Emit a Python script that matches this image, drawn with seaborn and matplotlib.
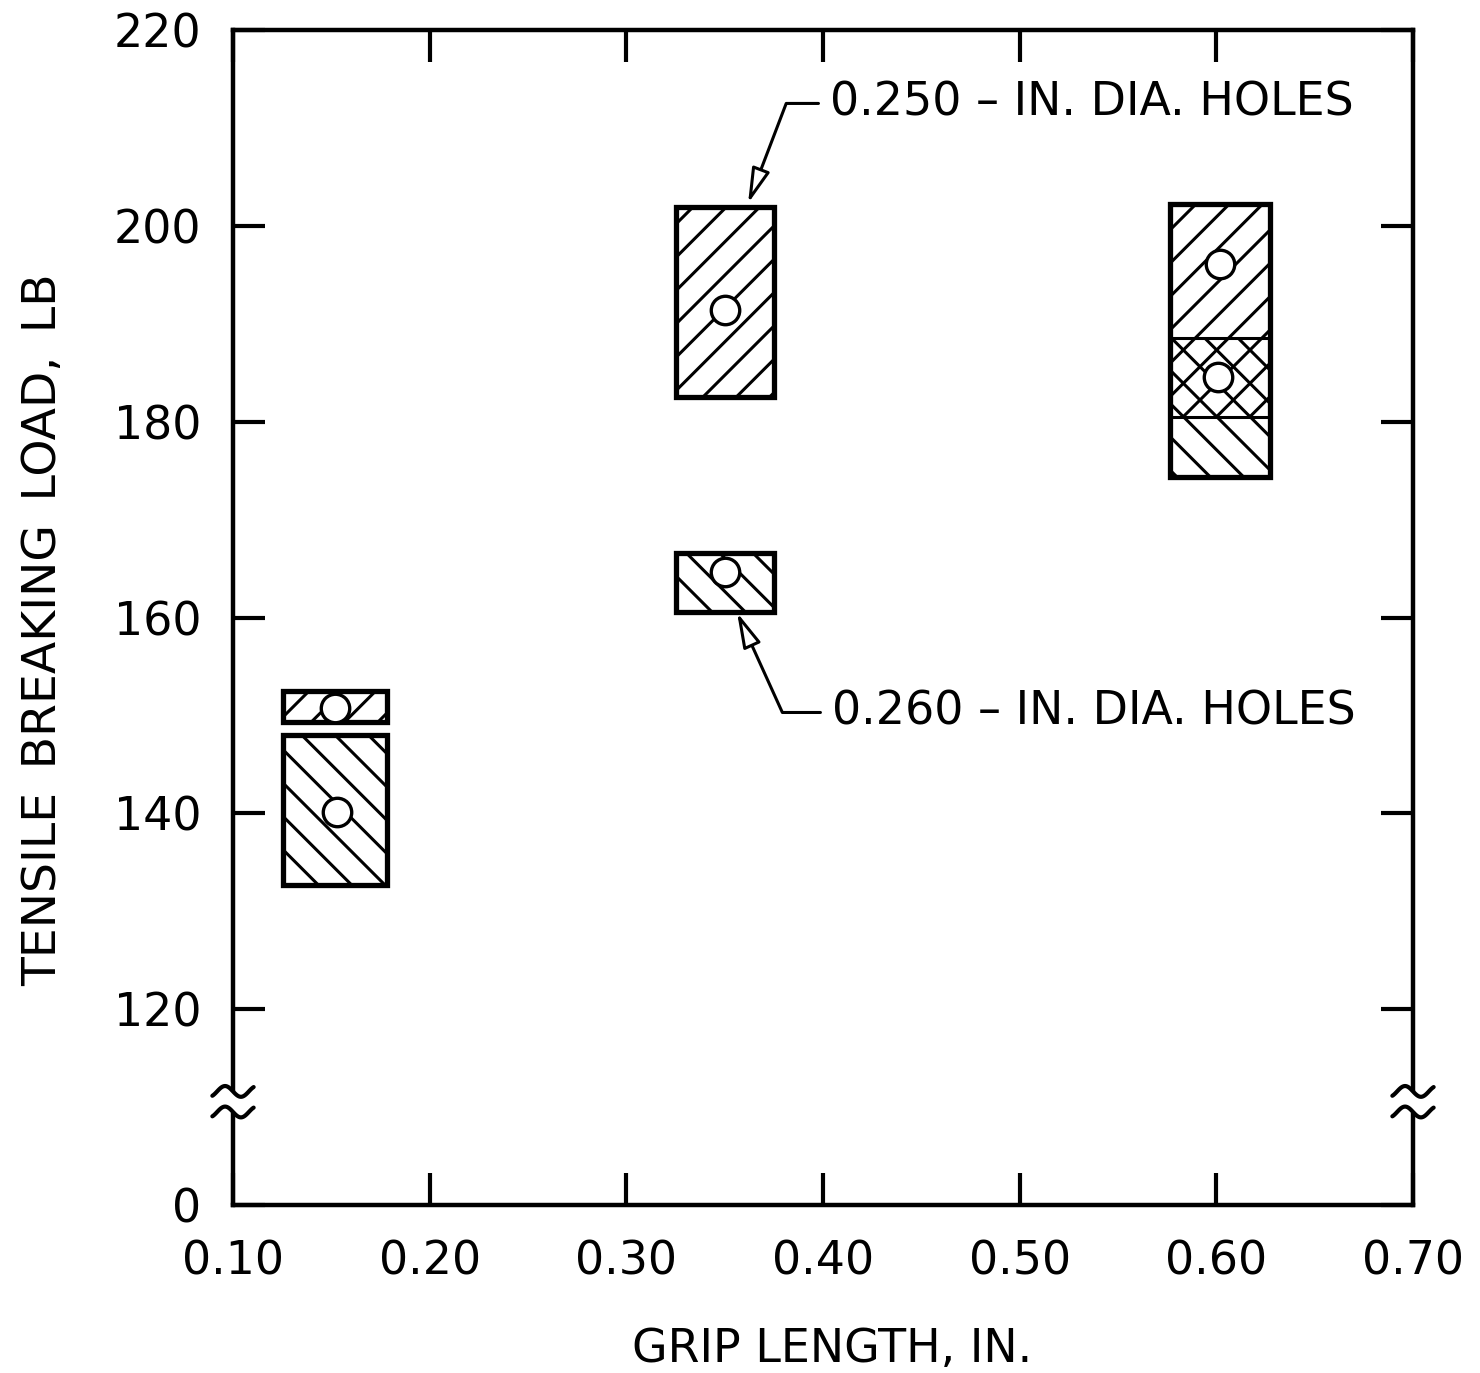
import numpy as np
import pandas as pd
import matplotlib
matplotlib.use("Agg")
import matplotlib.pyplot as plt
import seaborn as sns
from matplotlib.transforms import blended_transform_factory

# ---------------- data ----------------
box_x = [0.152, 0.152, 0.350, 0.350, 0.602, 0.602]
box_width = [0.053, 0.053, 0.050, 0.050, 0.051, 0.051]
box_low = [149.3, 132.7, 182.5, 160.6, 180.5, 174.3]
box_high = [152.5, 148.0, 201.9, 166.6, 202.2, 188.5]
box_hatch = ["//", "\\\\", "//", "\\\\", "//", "\\\\"]
box_frame = [0, 1, 2, 3, 4, 4]

mean_x = [0.152, 0.153, 0.350, 0.350, 0.602, 0.601]
mean_load = [150.8, 140.1, 191.4, 164.6, 196.1, 184.6]

x_ticks = [0.10, 0.20, 0.30, 0.40, 0.50, 0.60, 0.70]
x_tick_labels = ["0.10", "0.20", "0.30", "0.40", "0.50", "0.60", "0.70"]
y_ticks = [100, 120, 140, 160, 180, 200, 220]
y_tick_labels = ["0", "120", "140", "160", "180", "200", "220"]

y_break = [109.5, 111.6]

notes = ["0.250 \u2013 IN. DIA. HOLES", "0.260 \u2013 IN. DIA. HOLES"]
note_text_xy = [(0.4036, 212.5), (0.4046, 150.3)]
note_target_xy = [(0.3619, 202.3), (0.3563, 160.5)]
note_angle = [69.1, -65.6]

x_label = "GRIP LENGTH, IN."
y_label = "TENSILE\u2002BREAKING\u2002LOAD,\u2002LB"

# ---------------- style ----------------
sns.set_style("white")
plt.rcParams["font.family"] = ["DejaVu Sans"]
plt.rcParams["hatch.linewidth"] = 1.1
plt.rcParams["hatch.color"] = "black"
plt.rcParams["text.color"] = "black"
plt.rcParams["axes.labelcolor"] = "black"

fs = 16.5
fig = plt.figure(figsize=(7.4, 6.865), dpi=200, facecolor="white")
ax = fig.add_axes([233 / 1480, 1 - 1205 / 1373, 1180 / 1480, 1175 / 1373])
ax.set_facecolor("white")

# hatched boxes
boxes = pd.DataFrame(dict(x=box_x, w=box_width, low=box_low, high=box_high,
                          hatch=box_hatch, frame=box_frame))
for _, r in boxes.iterrows():
    ax.bar(r.x, r.high - r.low, bottom=r.low, width=r.w, fill=False,
           hatch=r.hatch, edgecolor="black", linewidth=1.1, zorder=2)
frames = boxes.groupby("frame").agg(x=("x", "mean"), w=("w", "mean"),
                                    low=("low", "min"), high=("high", "max"))
for _, r in frames.iterrows():
    ax.bar(r.x, r.high - r.low, bottom=r.low, width=r.w, fill=False,
           edgecolor="black", linewidth=1.9, zorder=3)

# mean points
means = pd.DataFrame(dict(grip=mean_x, load=mean_load))
sns.scatterplot(data=means, x="grip", y="load", ax=ax, s=105, color="white",
                edgecolor="black", linewidth=1.2, zorder=5, legend=False)

# axes
ax.set_xlim(x_ticks[0], x_ticks[-1])
ax.set_ylim(y_ticks[0], y_ticks[-1])
ax.set_xticks(x_ticks)
ax.set_xticklabels(x_tick_labels)
ax.set_yticks(y_ticks)
ax.set_yticklabels(y_tick_labels)
ax.tick_params(direction="in", length=11.5, width=1.5, top=True, right=True,
               left=True, bottom=True, labelsize=fs, colors="black")
ax.tick_params(axis="x", pad=12.5)
ax.tick_params(axis="y", pad=11.5)
for sp in ax.spines.values():
    sp.set_linewidth(1.6)
    sp.set_color("black")
    sp.set_visible(True)

ax.set_xlabel(x_label, fontsize=fs, color="black")
ax.set_ylabel(y_label, fontsize=17, color="black")
ax.xaxis.set_label_coords(0.508, -0.104)
ax.yaxis.set_label_coords(-0.1415, 0.49)

# axis breaks
trans = blended_transform_factory(ax.transAxes, ax.transData)
t = np.linspace(-0.3 * np.pi, 2.3 * np.pi, 80)
for xs in (0.0, 1.0):
    ax.plot([xs, xs], y_break, color="white", lw=7, transform=trans,
            clip_on=False, zorder=10, solid_capstyle="butt")
    for yc in y_break:
        ax.plot(xs + 0.0175 * (t - np.pi) / (1.3 * np.pi), yc + 0.55 * np.sin(t),
                color="black", lw=1.5, transform=trans, clip_on=False,
                zorder=11, solid_capstyle="round")

# annotations
for txt, xyt, xy, ang in zip(notes, note_text_xy, note_target_xy, note_angle):
    ax.annotate(txt, xy=xy, xytext=xyt, textcoords="data", fontsize=fs,
                ha="left", va="center", zorder=6, color="black",
                arrowprops=dict(arrowstyle="-|>,head_length=0.65,head_width=0.17",
                                fc="white", ec="black", lw=1.1,
                                connectionstyle=f"angle,angleA=0,angleB={ang},rad=0",
                                shrinkA=2, shrinkB=0))

fig.savefig("out.png", dpi=200, facecolor="white")
